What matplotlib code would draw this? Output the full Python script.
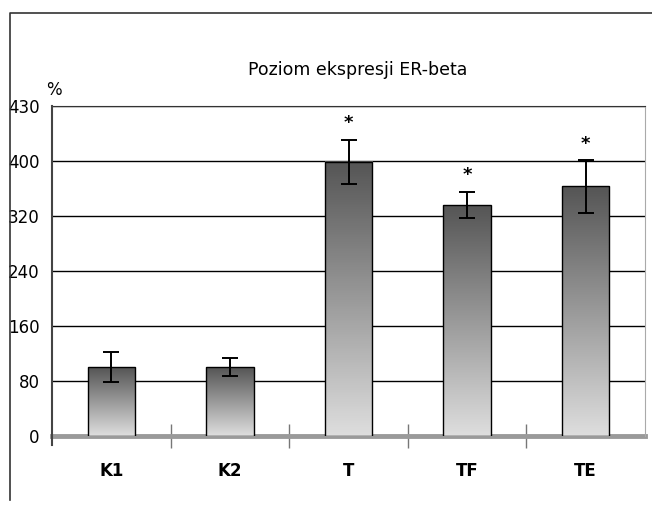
import numpy as np
import matplotlib.pyplot as plt
from matplotlib.colors import LinearSegmentedColormap
from matplotlib.lines import Line2D

# Data
groups = ["K1", "K2", "T", "TF", "TE"]
values = [100, 100, 399, 336, 363]
errors = [22, 13, 32, 19, 38]
marks = ["", "", "*", "*", "*"]
y_ticks = [0, 80, 160, 240, 320, 400, 480]
y_tick_labels = ["0", "80", "160", "240", "320", "400", "430"]

narrow = ["Liberation Sans Narrow", "DejaVu Sans"]


def main():
    fig = plt.figure(figsize=(6.52, 5.09), dpi=100)
    ax = fig.add_axes([0.0798, 0.1434, 0.9095, 0.6483])

    x = np.arange(len(groups))
    bars = ax.bar(x, values, width=0.4, color="none", edgecolor="black",
                  linewidth=1, zorder=3)

    # Vertical gradient inside each bar (dark at top, light at bottom)
    grad = np.linspace(0, 1, 256).reshape(-1, 1)
    cmap = LinearSegmentedColormap.from_list("bar", ["#dedede", "#555555"])
    for b in bars:
        ax.imshow(grad, extent=[b.get_x(), b.get_x() + b.get_width(), 0, b.get_height()],
                  origin="lower", cmap=cmap, aspect="auto", zorder=2)

    ax.errorbar(x, values, yerr=errors, fmt="none", ecolor="black",
                elinewidth=1.4, capsize=5.5, capthick=1.4, zorder=4)

    # Significance marks above the error bars
    for xi, v, e, m in zip(x, values, errors, marks):
        if m:
            ax.text(xi, v + e + 24, m, ha="center", va="center", fontsize=13,
                    fontweight="bold", family=narrow)

    ax.set_xlim(-0.5, len(groups) - 0.5)
    ax.set_ylim(0, y_ticks[-1])

    ax.set_yticks(y_ticks)
    ax.set_yticklabels(y_tick_labels, family=narrow, fontsize=12)
    ax.tick_params(axis="y", length=0, pad=9)
    ax.yaxis.grid(True, color="black", linewidth=1)
    ax.set_axisbelow(True)

    ax.set_xticks(x)
    ax.set_xticklabels(groups, family=narrow, fontsize=12, fontweight="bold")
    ax.tick_params(axis="x", length=0, pad=19)
    ax.set_xticks(np.arange(len(groups) + 1)[1:-1] - 0.5, minor=True)
    ax.tick_params(axis="x", which="minor", direction="inout", length=17,
                   width=1, color="#777777")

    # Thick gray base line at zero
    ax.axhline(0, color="#9a9a9a", linewidth=3.5, zorder=1.5, clip_on=False)

    ax.spines["left"].set_visible(False)
    ax.spines["bottom"].set_visible(False)
    ax.spines["top"].set_color("#333333")
    ax.spines["right"].set_color("#aaaaaa")
    ax.plot([0, 0], [-0.027, 1], transform=ax.transAxes, color="#444444",
            linewidth=1.5, clip_on=False, zorder=6)

    ax.text(-0.01, 1.05, "%", transform=ax.transAxes, fontsize=12,
            family=narrow, ha="left", va="center")
    fig.text(0.549, 0.862, "Poziom ekspresji ER-beta", ha="center", va="center",
             fontsize=12.5, family="DejaVu Sans")

    # Outer frame (left and top edges)
    fig.add_artist(Line2D([0.0153, 0.0153, 1.0], [0.018, 0.974, 0.974],
                          color="#333333", linewidth=1.2))

    fig.savefig("out.png", dpi=100)


if __name__ == "__main__":
    main()
